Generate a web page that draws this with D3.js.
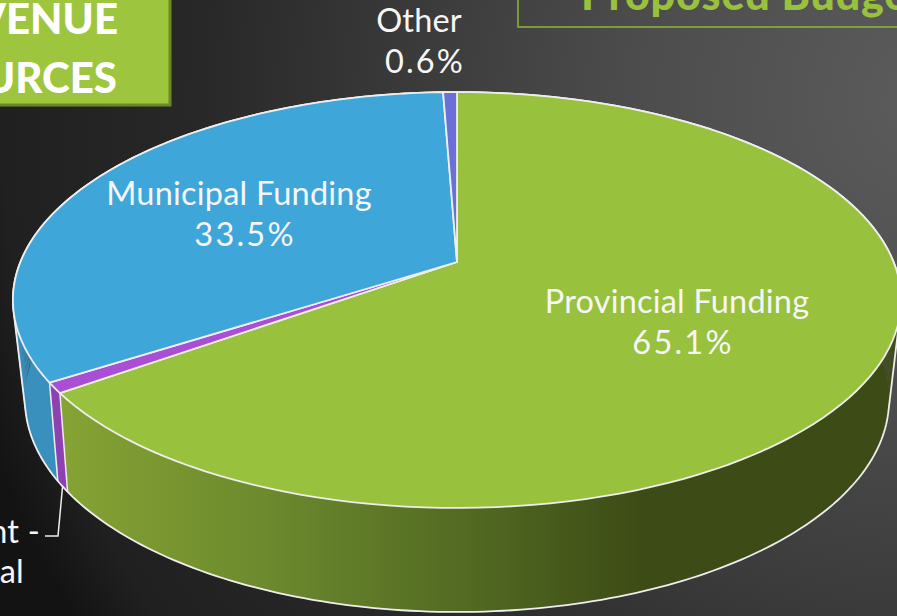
<!DOCTYPE html>
<html><head><meta charset="utf-8">
<script src="https://cdn.jsdelivr.net/npm/d3@7"></script>
<style>html,body{margin:0;padding:0;background:#222;overflow:hidden}svg{display:block}text{font-family:Lato,"Open Sans",sans-serif}</style>
</head><body><svg id="c" width="897" height="616"></svg>
<script>
const categories = ["Provincial Funding","","Municipal Funding","Other"];
const shares = [65.1, 0.8, 33.5, 0.6];
const shareLabels = ["65.1%", null, "33.5%", "0.6%"];
const clippedLabelLines = ["nt -","al"];
const boxTitle = ["REVENUE","SOURCES"];
const chartTitle = "Proposed Budget";
const topColors = ["#98c13d","#a94fd6","#3fa6d9","#6a70d8"];
const sideColors = ["url(#sideGreen)","#8f42b2","#3a90bd","#5a60b8"];

const W=897,H=616;
const svg=d3.select("#c");
const defs=svg.append("defs");

const bg=defs.append("radialGradient").attr("id","bg").attr("gradientUnits","userSpaceOnUse")
 .attr("cx",930).attr("cy",100).attr("r",1000);
[[0,"#5c5c5c"],[0.3,"#4c4c4c"],[0.5,"#3c3c3c"],[0.73,"#282828"],[0.93,"#202020"],[1,"#131313"]].forEach(s=>bg.append("stop").attr("offset",s[0]).attr("stop-color",s[1]));
const sg=defs.append("linearGradient").attr("id","sideGreen").attr("gradientUnits","userSpaceOnUse").attr("x1",60).attr("x2",640).attr("y1",0).attr("y2",0);
[[0,"#86a334"],[0.35,"#6d8a2e"],[0.7,"#526a22"],[1,"#3d4c16"]].forEach(s=>sg.append("stop").attr("offset",s[0]).attr("stop-color",s[1]));

svg.append("rect").attr("width",W).attr("height",H).attr("fill","url(#bg)");

// perspective pie: homography of the unit circle
const face={cx:457,cy:262,A:436.6,B:201,m:0.1827};
const base={cx:457,cy:357.6,A:423.3,B:203.5,m:0.2};
function proj(p,a){const ux=Math.sin(a),uy=-Math.cos(a),w=1-p.m*uy;return [p.cx+p.A*ux/w,p.cy+p.B*uy/w];}

const pie=d3.pie().value(d=>d).sort(null)(shares);
const line=d3.line();
const N=a=>d3.range(0,121).map(i=>a.startAngle+(a.endAngle-a.startAngle)*i/120);
const edge="#eeeeee";

// side walls, as strips joining the face rim to the base rim
svg.append("g").selectAll("path").data(pie.slice(0,3)).join("path")
 .attr("d",d=>{const as=N(d);return d3.range(as.length-1).map(k=>line([proj(face,as[k]),proj(face,as[k+1]),proj(base,as[k+1]),proj(base,as[k])])+"Z").join("");})
 .attr("fill",(d,i)=>sideColors[i]).attr("stroke",(d,i)=>sideColors[i]).attr("stroke-width",0.6);
// silhouette and wall edges
const rim=d3.range(0,360).map(i=>i*Math.PI/180);
const hull=d3.polygonHull(rim.map(a=>proj(face,a)).concat(rim.map(a=>proj(base,a))));
svg.append("path").attr("d",line(hull)+"Z").attr("fill","none").attr("stroke",edge).attr("stroke-width",1.8);
svg.append("g").selectAll("path").data(pie.slice(0,3)).join("path")
 .attr("d",d=>line([proj(face,d.endAngle),proj(base,d.endAngle)]))
 .attr("fill","none").attr("stroke",edge).attr("stroke-width",1.5);

// top faces
svg.append("g").selectAll("path").data(pie).join("path")
 .attr("d",d=>line([[face.cx,face.cy]].concat(N(d).map(a=>proj(face,a))))+"Z")
 .attr("fill",(d,i)=>topColors[i]).attr("stroke",edge).attr("stroke-width",1.8).attr("stroke-linejoin","round");

// data labels
const lab=svg.append("g").attr("fill","#f6f6f6").attr("font-size",32.5).attr("text-anchor","middle").attr("font-weight",400).attr("letter-spacing",0.2);
const labelPos=[[677,313],null,[239,205],[419,32]];
[0,2,3].forEach(i=>{
  lab.append("text").attr("x",labelPos[i][0]).attr("y",labelPos[i][1]).text(categories[i]);
  lab.append("text").attr("x",labelPos[i][0]+6).attr("y",labelPos[i][1]+41).attr("letter-spacing",2.2).text(shareLabels[i]);
});
// leader and clipped label
const lead=proj(base,(pie[1].startAngle+pie[1].endAngle)/2);
svg.append("path").attr("fill","none").attr("stroke","#f0f0f0").attr("stroke-width",1.5)
 .attr("d",line([lead,[58,536],[45,536]]));
lab.append("text").attr("x",40).attr("y",543).attr("text-anchor","end").text(clippedLabelLines[0]);
lab.append("text").attr("x",24).attr("y",583).attr("text-anchor","end").text(clippedLabelLines[1]);

// title boxes
svg.append("rect").attr("x",-10).attr("y",-10).attr("width",180).attr("height",115).attr("fill","#9dc53e").attr("stroke","#6a8a28").attr("stroke-width",3);
const t1=svg.append("g").attr("fill","#fff").attr("font-size",42).attr("font-weight",900).attr("text-anchor","end");
t1.append("text").attr("x",118).attr("y",34).text(boxTitle[0]);
t1.append("text").attr("x",117).attr("y",93).text(boxTitle[1]);
svg.append("rect").attr("x",518).attr("y",-10).attr("width",400).attr("height",37).attr("fill","none").attr("stroke","#8fb63a").attr("stroke-width",1.5);
svg.append("text").attr("x",581).attr("y",10).attr("fill","#98c13d").attr("font-size",43).attr("font-weight",900).attr("letter-spacing",0.8).text(chartTitle);
</script></body></html>
